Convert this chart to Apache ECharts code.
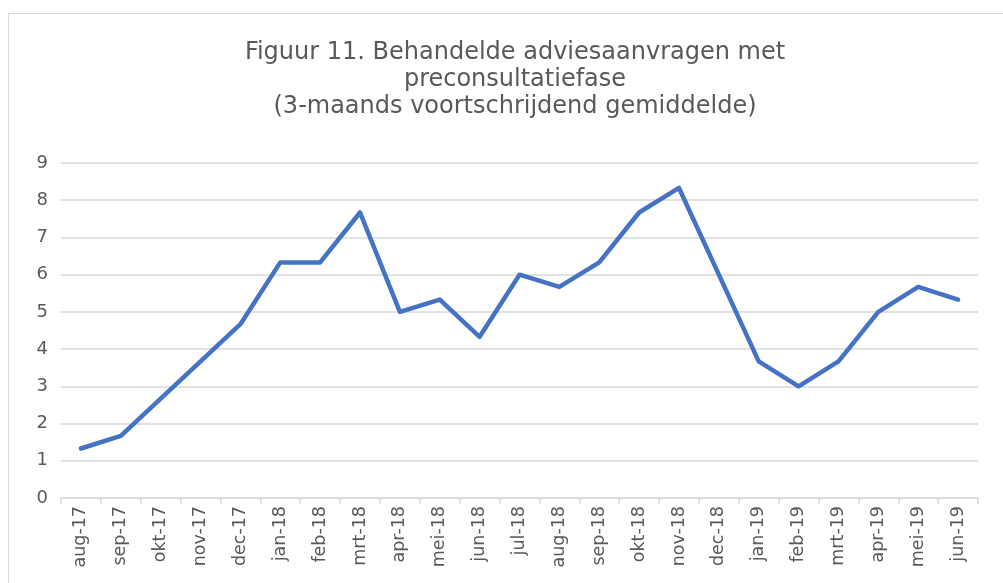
<!DOCTYPE html>
<html><head><meta charset="utf-8">
<script src="https://cdn.jsdelivr.net/npm/echarts@6/dist/echarts.min.js"></script>
<style>
html,body{margin:0;padding:0;background:#fff;}
#frame{position:absolute;left:8px;top:13px;width:1100px;height:700px;border:1.5px solid #d9d9d9;box-sizing:border-box;}
#chart{position:absolute;left:0;top:0;width:1003px;height:583px;}
</style></head>
<body>
<div id="frame"></div>
<div id="chart"></div>
<script>
const titleText = 'Figuur 11. Behandelde adviesaanvragen met\npreconsultatiefase\n(3-maands voortschrijdend gemiddelde)';
const categories = ['aug-17','sep-17','okt-17','nov-17','dec-17','jan-18','feb-18','mrt-18','apr-18','mei-18','jun-18','jul-18','aug-18','sep-18','okt-18','nov-18','dec-18','jan-19','feb-19','mrt-19','apr-19','mei-19','jun-19'];
const values = [1.33,1.67,2.67,3.67,4.67,6.33,6.33,7.67,5.0,5.33,4.33,6.0,5.67,6.33,7.67,8.33,6.0,3.67,3.0,3.67,5.0,5.67,5.33];
const yTicks = {min:0, max:9, interval:1};
const font = '"DejaVu Sans", Verdana, sans-serif';
const chart = echarts.init(document.getElementById('chart'), null, {renderer:'canvas'});
chart.setOption({
  animation:false,
  backgroundColor:'transparent',
  title:{text:titleText,left:510,textAlign:'center',top:34,
    textStyle:{fontFamily:font,fontSize:24,fontWeight:'normal',color:'#595959',lineHeight:27}},
  grid:{left:61,right:25,top:163,bottom:85},
  xAxis:{type:'category',data:categories,boundaryGap:true,
    axisLine:{lineStyle:{color:'#d9d9d9',width:1.5}},
    axisTick:{show:true,alignWithLabel:false,length:6,lineStyle:{color:'#d9d9d9',width:1.5}},
    axisLabel:{rotate:90,interval:0,margin:8,fontFamily:font,fontSize:17.5,color:'#595959'}},
  yAxis:{type:'value',min:yTicks.min,max:yTicks.max,interval:yTicks.interval,
    axisLine:{show:false},axisTick:{show:false},
    splitLine:{lineStyle:{color:'#d9d9d9',width:1.5}},
    axisLabel:{margin:13,fontFamily:font,fontSize:18,color:'#595959'}},
  series:[{type:'line',data:values,showSymbol:false,symbol:'none',
    lineStyle:{color:'#4472C4',width:4.5,cap:'round',join:'round'}}]
});
</script>
</body></html>
